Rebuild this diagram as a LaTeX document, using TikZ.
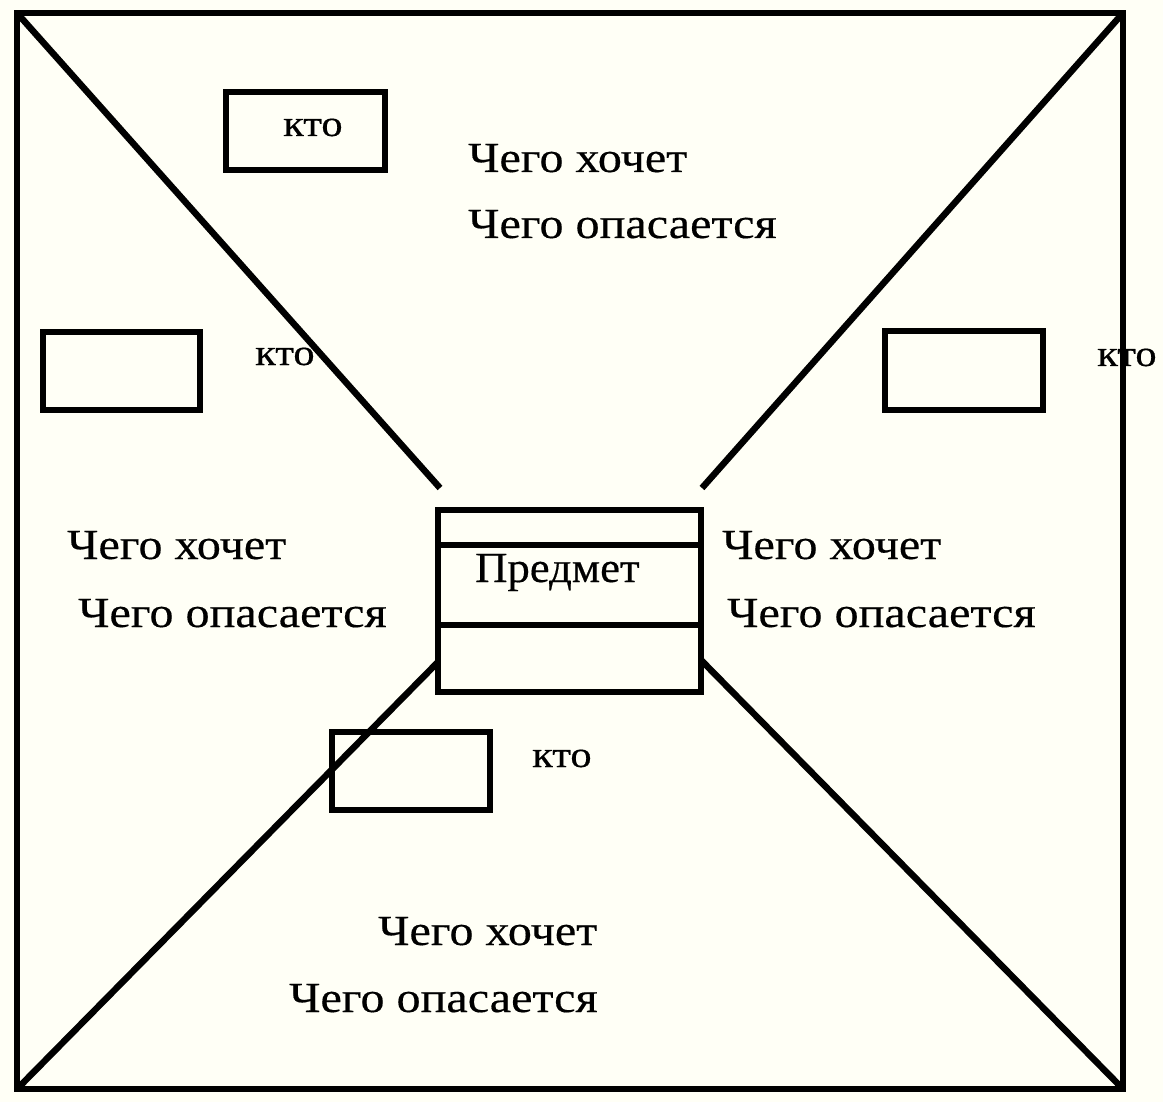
\documentclass[tikz,border=0pt]{standalone}
\usepackage{fontspec}
\setmainfont{Liberation Serif}
\newfontfamily\widefont[FakeStretch=1.12,FakeBold=0.4]{Liberation Serif}
\newfontfamily\whofont[FakeStretch=1.15,FakeBold=0.4]{Liberation Serif}
\newfontfamily\predfont[FakeStretch=1.04,FakeBold=0.4]{Liberation Serif}
\definecolor{bg}{RGB}{255,255,246}
\begin{document}
\begin{tikzpicture}[x=1pt,y=-1pt,
  thick line/.style={line width=6.5pt},
  smallbox/.style={draw,line width=6.5pt},
  bigtext/.style={anchor=base west,inner sep=0pt,font=\widefont\fontsize{43}{50}\selectfont},
  predtext/.style={anchor=base west,inner sep=0pt,font=\predfont\fontsize{43}{50}\selectfont},
  whotext/.style={anchor=base west,inner sep=0pt,font=\whofont\fontsize{37}{44}\selectfont},
  line cap=rect]
\fill[bg] (0,0) rectangle (1163,1102);
\useasboundingbox (0,0) rectangle (1163,1102);
% outer square corners
\coordinate (tl) at (17,13);
\coordinate (tr) at (1123,13);
\coordinate (br) at (1123,1089);
\coordinate (bl) at (17,1089);
\draw[thick line,line join=miter] (tl) -- (tr) -- (br) -- (bl) -- cycle;
% central box
\node[draw,line width=6.5pt,minimum width=263pt,minimum height=182pt,inner sep=0pt] (subj) at (569.5,601) {};
\coordinate (l1w) at (438,545); \coordinate (l1e) at (701,545);
\coordinate (l2w) at (438,625); \coordinate (l2e) at (701,625);
\draw[thick line] (l1w) -- (l1e);
\draw[thick line] (l2w) -- (l2e);
\node[predtext] (pred) at (475,582) {Предмет};
% diagonal ends
\coordinate (dtl) at (440,488);
\coordinate (dtr) at (702,488);
\coordinate (dbl) at (438,662);
\coordinate (dbr) at (701,660);
\draw[thick line,line cap=butt] (tl) -- (dtl);
\draw[thick line,line cap=butt] (tr) -- (dtr);
\draw[thick line,line cap=butt] (bl) -- (dbl);
\draw[thick line,line cap=butt] (br) -- (dbr);
% small boxes
\node[smallbox,minimum width=159pt,minimum height=78pt,inner sep=0pt] (btop) at (305.5,131) {};
\node[smallbox,minimum width=157pt,minimum height=78pt,inner sep=0pt] (bleft) at (121.5,371) {};
\node[smallbox,minimum width=158pt,minimum height=79pt,inner sep=0pt] (bright) at (964,370.5) {};
\node[smallbox,minimum width=158pt,minimum height=78pt,inner sep=0pt] (bbot) at (411,771) {};
% кто labels
\node[whotext] (wtop) at (283,136) {кто};
\node[whotext] (wleft) at (255,365) {кто};
\node[whotext] (wright) at (1097,366) {кто};
\node[whotext] (wbot) at (532,767) {кто};
% wants / fears
\node[bigtext] (t1) at (468,172) {Чего хочет};
\node[bigtext] (t2) at (468,238) {Чего опасается};
\node[bigtext] (l1) at (67,559) {Чего хочет};
\node[bigtext] (l2) at (78,627) {Чего опасается};
\node[bigtext] (r1) at (722,559) {Чего хочет};
\node[bigtext] (r2) at (727,627) {Чего опасается};
\node[bigtext] (b1) at (378,945) {Чего хочет};
\node[bigtext] (b2) at (289,1012) {Чего опасается};
\end{tikzpicture}
\end{document}
